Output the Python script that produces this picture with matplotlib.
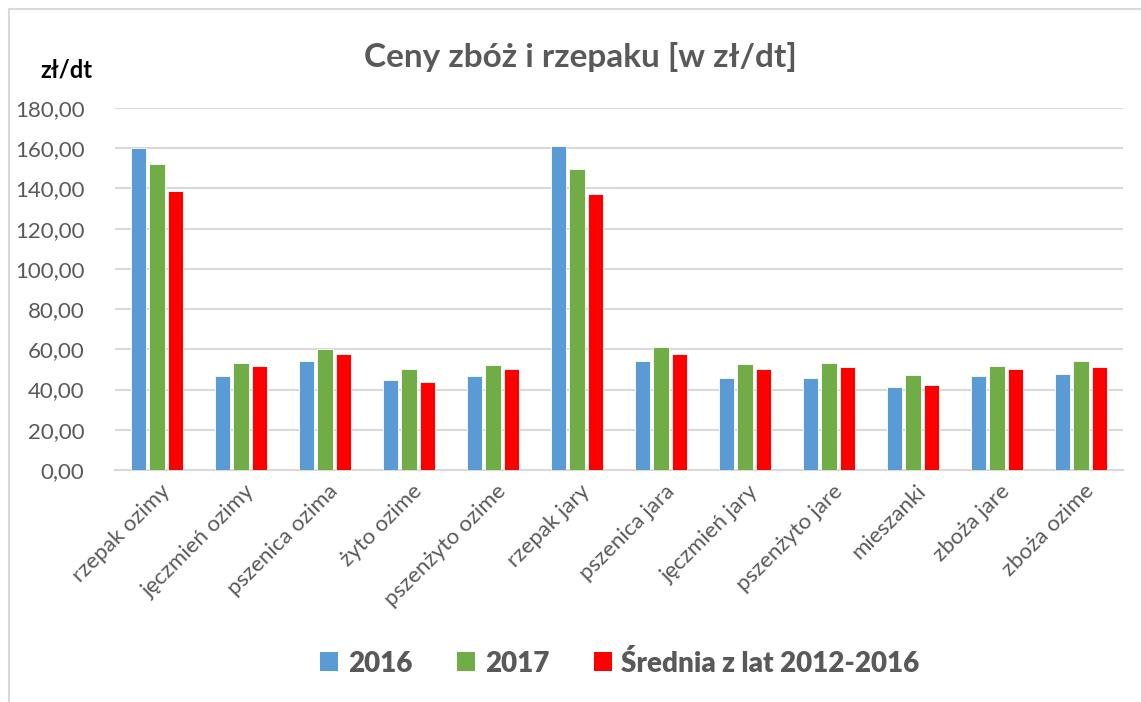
import numpy as np
import matplotlib.pyplot as plt
import matplotlib.transforms as mtransforms
from matplotlib.lines import Line2D
from matplotlib.patches import Patch

categories = ["rzepak ozimy", "jęczmień ozimy", "pszenica ozima", "żyto ozime",
              "pszenżyto ozime", "rzepak jary", "pszenica jara", "jęczmień jary",
              "pszenżyto jare", "mieszanki", "zboża jare", "zboża ozime"]
ceny_2016 = [160.0, 46.9, 54.2, 44.6, 46.5, 161.3, 54.2, 45.7, 45.9, 41.3, 46.9, 47.9]
ceny_2017 = [152.2, 53.0, 60.2, 50.4, 52.0, 149.7, 61.2, 52.5, 53.0, 47.1, 51.7, 54.0]
srednia = [138.9, 51.9, 57.8, 44.0, 50.2, 137.2, 57.5, 50.4, 51.1, 42.4, 50.4, 51.1]
series_names = ["2016", "2017", "Średnia z lat 2012-2016"]
yticks = np.arange(0, 181, 20)

colors = ["#5B9BD5", "#70AD47", "#FF0000"]
grey = "#595959"

plt.rcParams['font.family'] = ['Lato', 'DejaVu Sans']

W, H = 1141, 702
fig = plt.figure(figsize=(W / 100, H / 100), dpi=100)
# axes box in pixels: left 115, right 1123, top 108, bottom 470
ax = fig.add_axes([115 / W, 1 - 470 / H, (1123 - 115) / W, (470 - 108) / H])

x = np.arange(len(categories))
bw = 0.18
step = 0.22
for i, vals in enumerate([ceny_2016, ceny_2017, srednia]):
    ax.bar(x + (i - 1) * step, vals, width=bw, color=colors[i],
           edgecolor="white", linewidth=0.6, zorder=3, label=series_names[i])

ax.set_xlim(-0.5, len(categories) - 0.5)
ax.set_ylim(0, 180)
ax.set_yticks(yticks)
ax.set_yticklabels([f"{v:.2f}".replace(".", ",") for v in yticks])
ax.yaxis.grid(True, color="#D9D9D9", linewidth=1.5, zorder=0)
ax.set_axisbelow(True)
for s in ["top", "right", "left"]:
    ax.spines[s].set_visible(False)
ax.spines["bottom"].set_color("#D9D9D9")
ax.spines["bottom"].set_linewidth(1.5)

ax.tick_params(axis="y", length=0, pad=22, labelsize=16, labelcolor=grey)
ax.tick_params(axis="x", length=0, pad=8, labelsize=16, labelcolor=grey)
ax.set_xticks(x)
ax.set_xticklabels(categories, rotation=45, ha="right", rotation_mode="anchor")
offset = mtransforms.ScaledTranslation(3 / 100, 0, fig.dpi_scale_trans)
for lbl in ax.get_xticklabels():
    lbl.set_transform(lbl.get_transform() + offset)

fig.text(580 / W, 1 - 57 / H, "Ceny zbóż i rzepaku [w zł/dt]", ha="center", va="center",
         fontsize=24, fontweight="bold", color=grey)
fig.text(66 / W, 1 - 70 / H, "zł/dt", ha="center", va="center",
         fontsize=17, fontweight="bold", color="black")

handles = [Patch(facecolor=c, edgecolor="none") for c in colors]
fig.legend(handles, series_names, loc="center", bbox_to_anchor=(620 / W, 1 - 663 / H),
           ncol=3, frameon=False, handlelength=0.65, handleheight=0.65, handletextpad=0.35,
           columnspacing=1.6, prop={"size": 20, "weight": "heavy"}, labelcolor=grey)

# outer chart border (left and top visible)
fig.add_artist(Line2D([9 / W, 9 / W], [0, 1 - 9 / H], color="#D9D9D9", linewidth=1.5))
fig.add_artist(Line2D([9 / W, 1], [1 - 9 / H, 1 - 9 / H], color="#D9D9D9", linewidth=1.5))

fig.savefig("out.png", dpi=100)
